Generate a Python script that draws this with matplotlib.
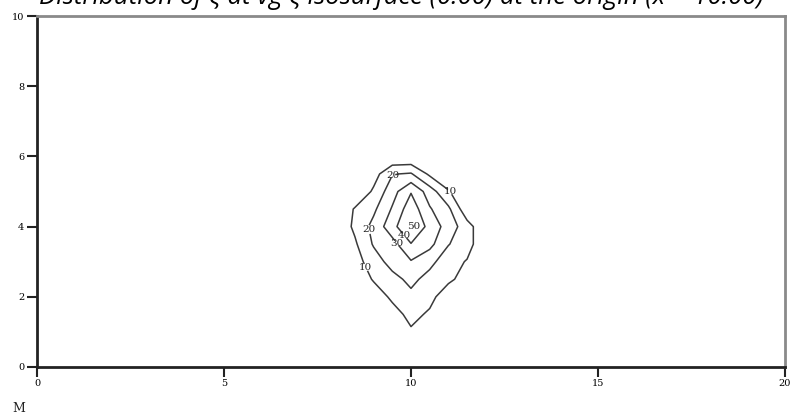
import numpy as np
import matplotlib
matplotlib.use("Agg")
import matplotlib.pyplot as plt

# grid of the field
x_nodes = [7.5, 8.0, 8.5, 9.0, 9.5, 10.0, 10.5, 11.0, 11.5, 12.0, 12.5]
y_nodes = [0.5, 1.0, 1.5, 2.0, 2.5, 3.0, 3.5, 4.0, 4.5, 5.0, 5.5, 6.0, 6.5]
z_rows = [
    [0, 0, 0, 0, 1.0, 4.0, 1.0, 0, 0, 0, 0],
    [0, 0, 0, 0, 3.0, 8.7, 4.0, 0, 0, 0, 0],
    [0, 0, 0, 0, 5.9, 13.0, 8.5, 0, 0, 0, 0],
    [0, 0, 0, 4.0, 12.0, 17.5, 13.0, 4.0, 0, 0, 0],
    [0, 0, 2.0, 11.0, 16.6, 22.7, 16.3, 12.0, 6.0, 0, 0],
    [0, 0, 6.0, 15.0, 24.0, 29.2, 23.0, 14.0, 9.3, 0, 0],
    [0, 0, 8.5, 21.0, 26.3, 39.4, 33.0, 20.5, 14.0, 2.0, 0],
    [0, 2.0, 12.0, 23.0, 36.0, 52.0, 36.0, 26.0, 14.0, 2.0, 0],
    [0, 0, 11.0, 18.0, 31.0, 46.0, 31.0, 22.0, 3.0, 0, 0],
    [0, 0, 0, 11.7, 26.0, 39.3, 25.0, 11.0, 0, 0, 0],
    [0, 0, 0, 5.5, 19.5, 21.0, 8.0, 0, 0, 0, 0],
    [0, 0, 0, 0, 0.5, 0.6, 0, 0, 0, 0, 0],
    [0, 0, 0, 0, 0, 0, 0, 0, 0, 0, 0],
]
levels = [10, 20, 30, 40, 50]
# where each level carries its label
label_spots = {
    10: [(11.04, 5.0), (8.77, 2.77)],
    20: [(9.52, 5.5), (8.86, 3.9)],
    30: [(9.62, 3.53)],
    40: [(9.84, 3.8)],
    50: [(10.1, 4.0)],
}
x_ticks = [0, 5, 10, 15, 20]
y_ticks = [0, 2, 4, 6, 8, 10]
title = "Distribution of ζ at vg ζ isosurface (0.00) at the origin (x = 10.00)"

X, Y = np.meshgrid(x_nodes, y_nodes)
Z = np.array(z_rows)

fig = plt.figure(figsize=(7.91, 4.18), dpi=100)
ax = fig.add_axes([37 / 791, 1 - 367 / 418, 748 / 791, 351 / 418])

# one set per level so every label sits on its own line
for lev in levels:
    lw = 0 if lev == 50 else 1.1   # the 50 loop is hidden under its label
    cs = ax.contour(X, Y, Z, levels=[lev], colors="#3a3a3a", linewidths=lw)
    ax.clabel(cs, fmt="%d", fontsize=7.5, colors="#222222", inline=True,
              inline_spacing=2, manual=label_spots[lev])
    for t in cs.labelTexts:
        t.set_family("DejaVu Serif")
        t.set_rotation(0)

ax.set_xlim(0, 20)
ax.set_ylim(0, 10)
ax.set_xticks(x_ticks)
ax.set_yticks(y_ticks)
ax.tick_params(direction="out", length=7, width=1.5, color="#222222",
               labelsize=7, pad=2)
for lab in ax.get_xticklabels() + ax.get_yticklabels():
    lab.set_family("DejaVu Serif")

for side in ["left", "bottom"]:
    ax.spines[side].set_color("#222222")
    ax.spines[side].set_linewidth(2)
for side in ["top", "right"]:
    ax.spines[side].set_color("#8a8a8a")
    ax.spines[side].set_linewidth(2)

# the title runs off the top edge, as in the original
fig.text(0.507, 1 - 4 / 418, title, ha="center", va="baseline",
         fontsize=18.5, style="italic", family="Open Sans")
fig.text(12 / 791, 1 - 412 / 418, "M", fontsize=9, family="DejaVu Serif",
         color="#222222")

fig.savefig("out.png", dpi=100)
